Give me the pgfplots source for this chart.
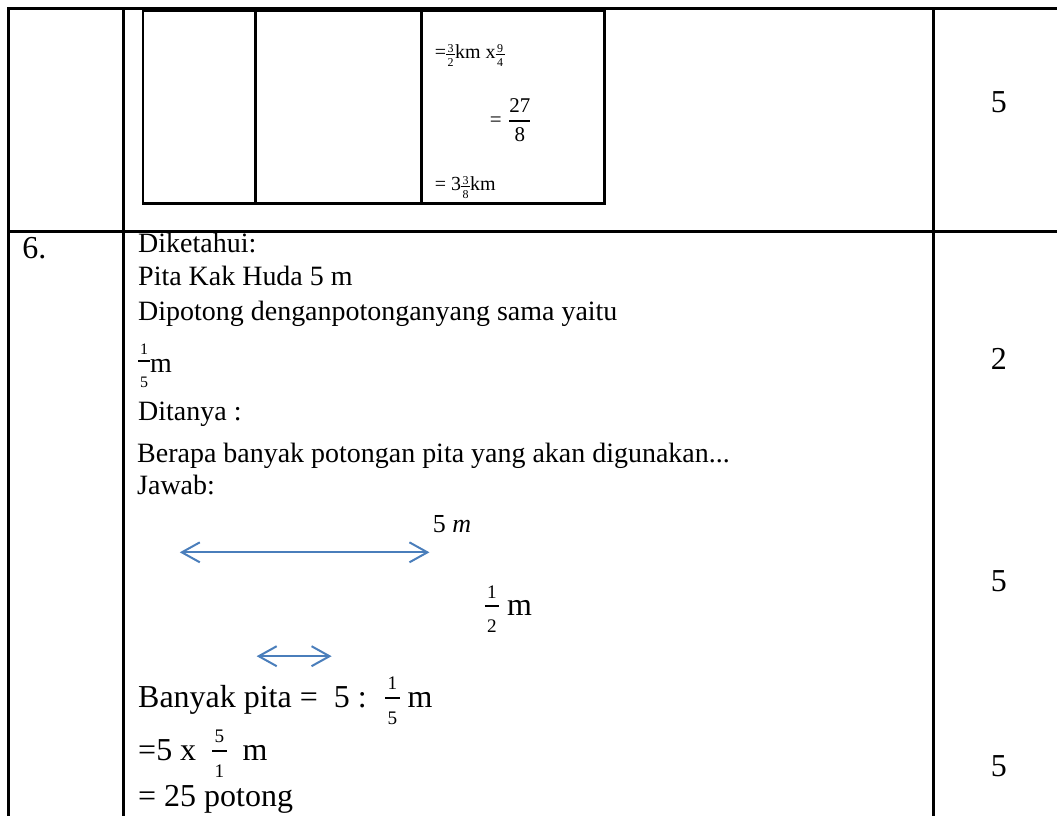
\documentclass[border=0pt]{standalone}
\usepackage{amsmath}
\usepackage{fontspec}
\setmainfont{Liberation Serif}
\usepackage{pgfplots}
\pgfplotsset{compat=1.18}
\usetikzlibrary{arrows.meta}
\definecolor{arrowblue}{RGB}{74,126,187}

\newcommand{\sz}[1]{\fontsize{#1}{#1}\selectfont}
\newcommand{\dfr}[3]{\ensuremath{\genfrac{}{}{0.9pt}{0}{\hbox{\sz{#1}#2}}{\hbox{\sz{#1}#3}}}}
% stacked fraction: #1 digit size, #2 num, #3 den, #4 num raise, #5 bar raise, #6 den raise, #7 bar thickness
\newdimen\frw
\newcommand{\cfr}[7]{\begingroup\sz{#1}%
  \setbox0\hbox{#2}\setbox2\hbox{#3}%
  \frw=\wd0 \ifdim\wd2>\frw \frw=\wd2 \fi
  \advance\frw by 0.25em
  \hbox to\frw{\hfil
    \raisebox{#4}{\makebox[0pt][c]{#2}}%
    \raisebox{#6}{\makebox[0pt][c]{#3}}%
    \raisebox{#5}{\makebox[0pt][c]{\rule{\frw}{#7}}}\hfil}%
  \endgroup}
\newcommand{\bfr}[2]{\cfr{9.6}{#1}{#2}{8.6pt}{4.05pt}{-8.5pt}{0.9pt}}
\newcommand{\sfr}[2]{\cfr{6}{#1}{#2}{3pt}{1.75pt}{-4pt}{0.5pt}}

\tikzset{
  tbl/.style={black, line width=1.3pt, line cap=rect},
  txt/.style={anchor=base west, inner sep=0pt},
  num/.style={anchor=base, inner sep=0pt, font=\sz{16}},
  arr/.style={arrowblue, line width=1pt,
    {Straight Barb[length=9pt,width=10pt,line width=1pt]}-{Straight Barb[length=9pt,width=10pt,line width=1pt]}},
}

\begin{document}
\begin{tikzpicture}
\begin{axis}[
  width=528.5pt, height=408pt, scale only axis,
  xmin=0, xmax=1057, ymin=0, ymax=816, y dir=reverse,
  hide axis, clip=false,
]
\addplot[draw=none] coordinates {(0,0) (1057,816)};

% outer table
\addplot[tbl] coordinates {(8.5,8.5) (1057,8.5)};
\addplot[tbl] coordinates {(8.5,232) (1057,232)};
\addplot[tbl] coordinates {(8.5,8.5) (8.5,816)};
\addplot[tbl] coordinates {(123.5,8.5) (123.5,816)};
\addplot[tbl] coordinates {(934.5,8.5) (934.5,816)};

% inner table (top row)
\addplot[black, line width=2.4pt] coordinates {(142,9.5) (606,9.5)};
\addplot[tbl] coordinates {(143,9.5) (143,203.5)};
\addplot[tbl] coordinates {(256,9.5) (256,203.5)};
\addplot[tbl] coordinates {(422,9.5) (422,203.5)};
\addplot[tbl] coordinates {(605,9.5) (605,203.5)};
\addplot[tbl] coordinates {(143,203.5) (605,203.5)};

\node[txt, font=\sz{10}] at (axis cs:435,59) {=\sfr{3}{2}km x\sfr{9}{4}};
\node[txt, font=\sz{10.5}] at (axis cs:490,127) {= \dfr{10.5}{27}{8}};
\node[txt, font=\sz{10}] at (axis cs:435,191) {= 3\sfr{3}{8}km};

% score column
\node[num] at (axis cs:1000,113) {5};
\node[num] at (axis cs:1000,370) {2};
\node[num] at (axis cs:1000,592) {5};
\node[num] at (axis cs:1000,777) {5};

% question 6
\node[txt, font=\sz{16}] at (axis cs:22,259) {6.};
\node[txt, font=\sz{14}] at (axis cs:138,253) {Diketahui:};
\node[txt, font=\sz{14}] at (axis cs:138,286) {Pita Kak Huda 5 m};
\node[txt, font=\sz{14}] at (axis cs:138,321) {Dipotong denganpotonganyang sama yaitu};
\node[txt, font=\sz{14}] at (axis cs:138,373) {\cfr{8}{1}{5}{9pt}{5.25pt}{-7.5pt}{0.8pt}m};
\node[txt, font=\sz{14}] at (axis cs:138,421) {Ditanya :};
\node[txt, font=\sz{14}] at (axis cs:137,463) {Berapa banyak potongan pita yang akan digunakan...};
\node[txt, font=\sz{14}] at (axis cs:137,495) {Jawab:};

\node[txt, font=\sz{13}] at (axis cs:433,533) {5 \textit{m}};
\addplot[arr] coordinates {(180,553) (430,553)};
\node[txt, font=\sz{16}] at (axis cs:485,616) {\bfr{1}{2} m};
\addplot[arr] coordinates {(257,657) (332,657)};

\node[txt, font=\sz{16}] at (axis cs:138,708) {Banyak pita = \ 5 : \ \bfr{1}{5} m};
\node[txt, font=\sz{16}] at (axis cs:138,761) {=5 x \ \bfr{5}{1} \ m};
\node[txt, font=\sz{16}] at (axis cs:138,807) {= 25 potong};
\end{axis}
\end{tikzpicture}
\end{document}
